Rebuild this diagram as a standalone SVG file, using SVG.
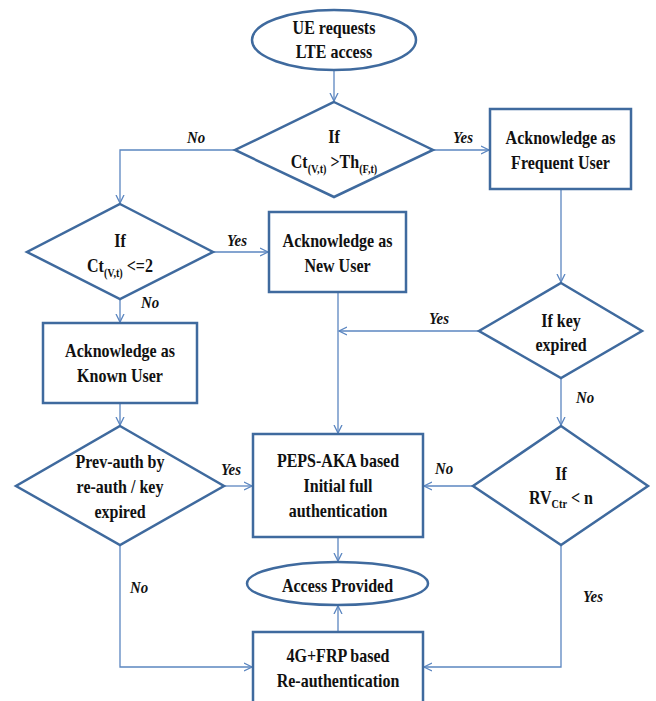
<svg xmlns="http://www.w3.org/2000/svg" width="656" height="701" viewBox="0 0 656 701">
<defs>
<style>
.n{fill:#fff;stroke:#3f6a9e;stroke-width:2.5}
.c{fill:none;stroke:#5b86c0;stroke-width:1.3}
.t{font-family:"Liberation Serif","Times New Roman",serif;font-weight:bold;font-size:18px;fill:#111;text-anchor:middle}
.l{font-family:"Liberation Serif","Times New Roman",serif;font-weight:bold;font-style:italic;font-size:17.5px;fill:#111;text-anchor:middle}
.s{font-size:11.5px}
</style>
<marker id="a" markerUnits="userSpaceOnUse" markerWidth="10" markerHeight="10" refX="8" refY="4" orient="auto" viewBox="0 0 10 8">
<path d="M0,0 L8,4 L0,8" fill="none" stroke="#5b86c0" stroke-width="1.3"/>
</marker>
</defs>
<rect width="656" height="701" fill="#fff"/>
<g id="connectors">
<path class="c" d="M334,70 V101" marker-end="url(#a)"/>
<path class="c" d="M235,150 H120 V203" marker-end="url(#a)"/>
<path class="c" d="M433,150 H489" marker-end="url(#a)"/>
<path class="c" d="M213,252 H268" marker-end="url(#a)"/>
<path class="c" d="M120,299 V322" marker-end="url(#a)"/>
<path class="c" d="M561,189 V282" marker-end="url(#a)"/>
<path class="c" d="M479,331 H339" marker-end="url(#a)"/>
<path class="c" d="M338,292 V433" marker-end="url(#a)"/>
<path class="c" d="M120,403 V425" marker-end="url(#a)"/>
<path class="c" d="M224,486 H252" marker-end="url(#a)"/>
<path class="c" d="M473,486 H424" marker-end="url(#a)"/>
<path class="c" d="M561,378 V425" marker-end="url(#a)"/>
<path class="c" d="M338,537 V561" marker-end="url(#a)"/>
<path class="c" d="M338,631 V606" marker-end="url(#a)"/>
<path class="c" d="M120,545 V667 H252" marker-end="url(#a)"/>
<path class="c" d="M561,545 V667 H424" marker-end="url(#a)"/>
</g>
<g class="l" id="labels">
<text transform="translate(196 143) scale(0.85 1)">No</text>
<text transform="translate(463 143) scale(0.85 1)">Yes</text>
<text transform="translate(237 246) scale(0.85 1)">Yes</text>
<text transform="translate(150 308) scale(0.85 1)">No</text>
<text transform="translate(439 324) scale(0.85 1)">Yes</text>
<text transform="translate(585 403) scale(0.85 1)">No</text>
<text transform="translate(231 475) scale(0.85 1)">Yes</text>
<text transform="translate(444 474) scale(0.85 1)">No</text>
<text transform="translate(139 593) scale(0.85 1)">No</text>
<text transform="translate(593 602) scale(0.85 1)">Yes</text>
</g>
<g id="start">
<ellipse class="n" cx="334" cy="40" rx="82" ry="30"/>
<text class="t" transform="translate(334 34) scale(0.89 1)">UE requests</text>
<text class="t" transform="translate(334 58) scale(0.89 1)">LTE access</text>
</g>
<g id="d1">
<polygon class="n" points="334,102 433,150 334,197 235,150"/>
<text class="t" transform="translate(334 143) scale(0.89 1)">If</text>
<text class="t" transform="translate(334 168) scale(0.89 1)">Ct<tspan class="s" dy="5">(V,t)</tspan><tspan dy="-5"> &gt;Th</tspan><tspan class="s" dy="5">(F,t)</tspan></text>
</g>
<g id="frequent">
<rect class="n" x="490" y="109" width="141" height="80"/>
<text class="t" transform="translate(560.5 144) scale(0.89 1)">Acknowledge as</text>
<text class="t" transform="translate(560.5 169) scale(0.89 1)">Frequent User</text>
</g>
<g id="d2">
<polygon class="n" points="120,204 213,252 120,299 27,252"/>
<text class="t" transform="translate(120 246.5) scale(0.89 1)">If</text>
<text class="t" transform="translate(120 271.5) scale(0.89 1)">Ct<tspan class="s" dy="5">(V,t)</tspan><tspan dy="-5"> &lt;=2</tspan></text>
</g>
<g id="new">
<rect class="n" x="269" y="212" width="137" height="80"/>
<text class="t" transform="translate(337.5 246.5) scale(0.89 1)">Acknowledge as</text>
<text class="t" transform="translate(337.5 271.5) scale(0.89 1)">New User</text>
</g>
<g id="known">
<rect class="n" x="43" y="323" width="154" height="80"/>
<text class="t" transform="translate(120 357) scale(0.89 1)">Acknowledge as</text>
<text class="t" transform="translate(120 382) scale(0.89 1)">Known User</text>
</g>
<g id="d3">
<polygon class="n" points="561,283 642,331 561,378 479,331"/>
<text class="t" transform="translate(561 326.5) scale(0.89 1)">If key</text>
<text class="t" transform="translate(561 350.5) scale(0.89 1)">expired</text>
</g>
<g id="d4">
<polygon class="n" points="120,426 224,486 120,545 16,486"/>
<text class="t" transform="translate(120 468) scale(0.89 1)">Prev-auth by</text>
<text class="t" transform="translate(120 493) scale(0.89 1)">re-auth / key</text>
<text class="t" transform="translate(120 518) scale(0.89 1)">expired</text>
</g>
<g id="peps">
<rect class="n" x="253" y="434" width="170" height="103"/>
<text class="t" transform="translate(338 466.5) scale(0.89 1)">PEPS-AKA based</text>
<text class="t" transform="translate(338 492) scale(0.89 1)">Initial full</text>
<text class="t" transform="translate(338 517) scale(0.89 1)">authentication</text>
</g>
<g id="d5">
<polygon class="n" points="561,426 648,486 561,545 473,486"/>
<text class="t" transform="translate(561 480) scale(0.89 1)">If</text>
<text class="t" transform="translate(561 504) scale(0.89 1)">RV<tspan class="s" dy="4">Ctr</tspan><tspan dy="-4"> &lt; n</tspan></text>
</g>
<g id="access">
<ellipse class="n" cx="337.5" cy="583.5" rx="90.5" ry="21.5"/>
<text class="t" transform="translate(337.5 591.5) scale(0.89 1)">Access Provided</text>
</g>
<g id="reauth">
<rect class="n" x="253" y="632" width="170" height="90"/>
<text class="t" transform="translate(338 661.5) scale(0.89 1)">4G+FRP based</text>
<text class="t" transform="translate(338 686.5) scale(0.89 1)">Re-authentication</text>
</g>
</svg>
